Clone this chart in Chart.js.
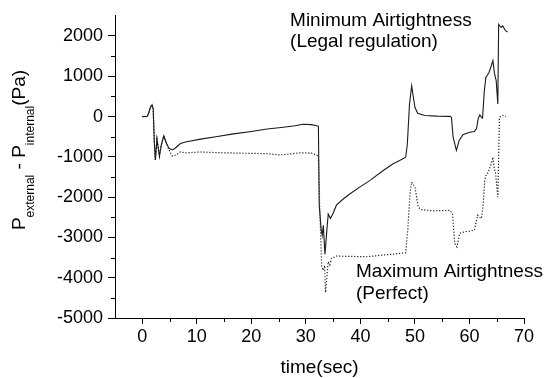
<!DOCTYPE html>
<html>
<head>
<meta charset="utf-8">
<script src="https://cdn.jsdelivr.net/npm/chart.js@4/dist/chart.umd.min.js"></script>
<style>
  html, body { margin: 0; padding: 0; background: #fff; }
  #wrap { width: 551px; height: 378px; position: relative; }
</style>
</head>
<body>
<div id="wrap"><canvas id="c" width="551" height="378"></canvas></div>
<script>
// ---- Data ----
const minTime = [0, 0.9, 1.2, 1.5, 1.8, 2.0, 2.2, 2.4, 2.7, 3.15, 3.5, 3.95, 4.4, 4.9, 5.5, 6.1, 7.0, 7.9, 10.7, 13.5, 16.7, 20, 22.9, 25.9, 28, 29.5, 31, 32.0, 32.3,
  32.45, 32.8, 33.0, 33.2, 33.5, 33.8, 34.1, 34.5, 35.0, 35.6, 36.9, 38.1, 40, 41.7, 44.2, 46.0, 47.2, 48.3, 48.6, 49.0, 49.4, 50.0, 50.5, 51.2, 51.8, 54, 56.4, 56.7,
  57.0, 57.6, 58.1, 58.8, 60.0, 60.9, 61.3, 61.6, 61.9, 62.2, 62.4, 62.7, 63.0, 63.3, 63.6, 64.0, 64.3, 64.6, 64.9, 65.2, 65.35, 65.8, 66.1, 66.6, 67.0];
const minValues = [0, 0, 100, 230, 290, 200, -600, -1080, -560, -980, -700, -480, -650, -790, -830, -780, -670, -630, -560, -500, -430, -370, -310, -265, -230, -190, -200, -230, -240,
  -2200, -2800, -2950, -2700, -3420, -2900, -2420, -2530, -2400, -2200, -2040, -1915, -1740, -1590, -1340, -1170, -1090, -1010, -700, 300, 760, 230, 80, 50, 25, 10, 5, -20,
  -510, -840, -600, -450, -390, -370, -300, -50, 40, -20, -40, 600, 970, 1030, 1100, 1260, 1390, 1060, 890, 310, 2290, 2210, 2250, 2130, 2100];

const maxTime = [0, 0.9, 1.2, 1.5, 1.8, 2.0, 2.2, 2.4, 2.7, 3.15, 3.5, 3.95, 4.4, 4.9, 5.5, 6.1, 7.0, 7.9, 10.7, 13.5, 16.7, 20, 22.9, 25.3, 27, 29, 31, 32.0, 32.3,
  32.6, 32.9, 33.2, 33.45, 33.6, 33.9, 34.1, 34.4, 34.7, 35.6, 38, 41.1, 44, 46.0, 48.3, 48.7, 49.1, 49.4, 50.0, 50.6, 51.1, 53.3, 56.4, 56.9, 57.3, 57.7, 58.2, 59.1,
  60.0, 60.9, 61.5, 61.8, 62.2, 62.5, 62.8, 63.1, 63.4, 64.0, 64.3, 64.5, 64.8, 65.2, 65.35, 65.5, 66.1, 66.7];
const maxValues = [0, 0, 100, 230, 290, 200, -600, -1080, -560, -980, -700, -480, -650, -830, -980, -960, -880, -900, -880, -895, -905, -915, -920, -955, -930, -900, -910, -960, -990,
  -2500, -3730, -3820, -3700, -4370, -3900, -3600, -3680, -3520, -3465, -3470, -3480, -3440, -3415, -3380, -2800, -1900, -1625, -1750, -2245, -2310, -2340, -2330, -2410, -3150, -3235, -2900, -2860,
  -2845, -2820, -2450, -2500, -2530, -2200, -1585, -1420, -1400, -1170, -1010, -1250, -1420, -2000, -1000, -20, 25, 0];

const xTickValues = [0, 10, 20, 30, 40, 50, 60, 70];
const yTickValues = [-5000, -4000, -3000, -2000, -1000, 0, 1000, 2000];
const xMinorTicks = [5, 15, 25, 35, 45, 55, 65];
const yMinorTicks = [-4500, -3500, -2500, -1500, -500, 500, 1500];

const xTitle = 'time(sec)';
const annotations = [
  { x: 27.1, y: 2250, lines: ['Minimum Airtightness', '(Legal regulation)'] },
  { x: 39.2, y: -3985, lines: ['Maximum Airtightness', '(Perfect)'] }
];

const FONT = '"Liberation Sans", Arial, Helvetica, sans-serif';

function toXY(xs, ys) { return xs.map((x, i) => ({ x: x, y: ys[i] })); }

const decorPlugin = {
  id: 'decor',
  afterDraw(chart) {
    const ctx = chart.ctx;
    const xs = chart.scales.x, ys = chart.scales.y;
    const area = chart.chartArea;
    ctx.save();
    // minor ticks
    ctx.strokeStyle = '#000';
    ctx.lineWidth = 1;
    ctx.beginPath();
    xMinorTicks.forEach(v => {
      const px = Math.round(xs.getPixelForValue(v)) + 0.5;
      ctx.moveTo(px, area.bottom);
      ctx.lineTo(px, area.bottom + 4);
    });
    yMinorTicks.forEach(v => {
      const py = Math.round(ys.getPixelForValue(v)) + 0.5;
      ctx.moveTo(area.left, py);
      ctx.lineTo(area.left - 4, py);
    });
    ctx.stroke();

    ctx.fillStyle = '#000';
    // annotations
    ctx.font = '19px ' + FONT;
    ctx.textAlign = 'left';
    ctx.textBaseline = 'alphabetic';
    annotations.forEach(a => {
      const px = xs.getPixelForValue(a.x), py = ys.getPixelForValue(a.y);
      a.lines.forEach((l, i) => ctx.fillText(l, px, py + i * 21.5));
    });

    // x title
    ctx.font = '19px ' + FONT;
    ctx.textAlign = 'center';
    ctx.fillText(xTitle, (area.left + area.right) / 2, area.bottom + 55);

    // y title with subscripts
    const parts = [
      { t: 'P', sub: false }, { t: 'external', sub: true },
      { t: ' - P', sub: false }, { t: 'internal', sub: true },
      { t: '(Pa)', sub: false }
    ];
    const mainF = '19px ' + FONT, subF = '12px ' + FONT;
    let total = 0;
    parts.forEach(p => { ctx.font = p.sub ? subF : mainF; p.w = ctx.measureText(p.t).width; total += p.w; });
    ctx.translate(25, 150);
    ctx.rotate(-Math.PI / 2);
    ctx.textAlign = 'left';
    let cx = -total / 2;
    parts.forEach(p => {
      ctx.font = p.sub ? subF : mainF;
      ctx.fillText(p.t, cx, p.sub ? 9 : 0);
      cx += p.w;
    });
    ctx.restore();
  }
};

new Chart(document.getElementById('c'), {
  type: 'line',
  data: {
    datasets: [
      {
        label: 'Minimum Airtightness (Legal regulation)',
        data: toXY(minTime, minValues),
        borderColor: '#1a1a1a',
        borderWidth: 1.1,
        pointRadius: 0,
        tension: 0,
        fill: false
      },
      {
        label: 'Maximum Airtightness (Perfect)',
        data: toXY(maxTime, maxValues),
        borderColor: '#1a1a1a',
        borderWidth: 1.2,
        borderDash: [1.2, 1.8],
        pointRadius: 0,
        tension: 0,
        fill: false
      }
    ]
  },
  options: {
    responsive: false,
    animation: false,
    devicePixelRatio: 1,
    layout: { padding: { top: 15, right: 27, left: 0, bottom: 0 } },
    plugins: { legend: { display: false }, tooltip: { enabled: false } },
    scales: {
      x: {
        type: 'linear',
        min: -5, max: 70,
        afterFit(s) { s.height = 60; },
        afterBuildTicks(s) { s.ticks = xTickValues.map(v => ({ value: v })); },
        ticks: { color: '#000', font: { family: FONT, size: 18 }, padding: 2, maxRotation: 0, includeBounds: false, callback: v => String(v) },
        grid: { display: true, drawOnChartArea: false, drawTicks: true, tickLength: 6, color: '#000', lineWidth: 1 },
        border: { display: true, color: '#000', width: 1 }
      },
      y: {
        type: 'linear',
        min: -5000, max: 2500,
        afterFit(s) { s.width = 115; },
        afterBuildTicks(s) { s.ticks = yTickValues.map(v => ({ value: v })); },
        ticks: { color: '#000', font: { family: FONT, size: 18 }, padding: 5, includeBounds: false, callback: v => String(v) },
        grid: { display: true, drawOnChartArea: false, drawTicks: true, tickLength: 7, color: '#000', lineWidth: 1 },
        border: { display: true, color: '#000', width: 1 }
      }
    }
  },
  plugins: [decorPlugin]
});
</script>
</body>
</html>
